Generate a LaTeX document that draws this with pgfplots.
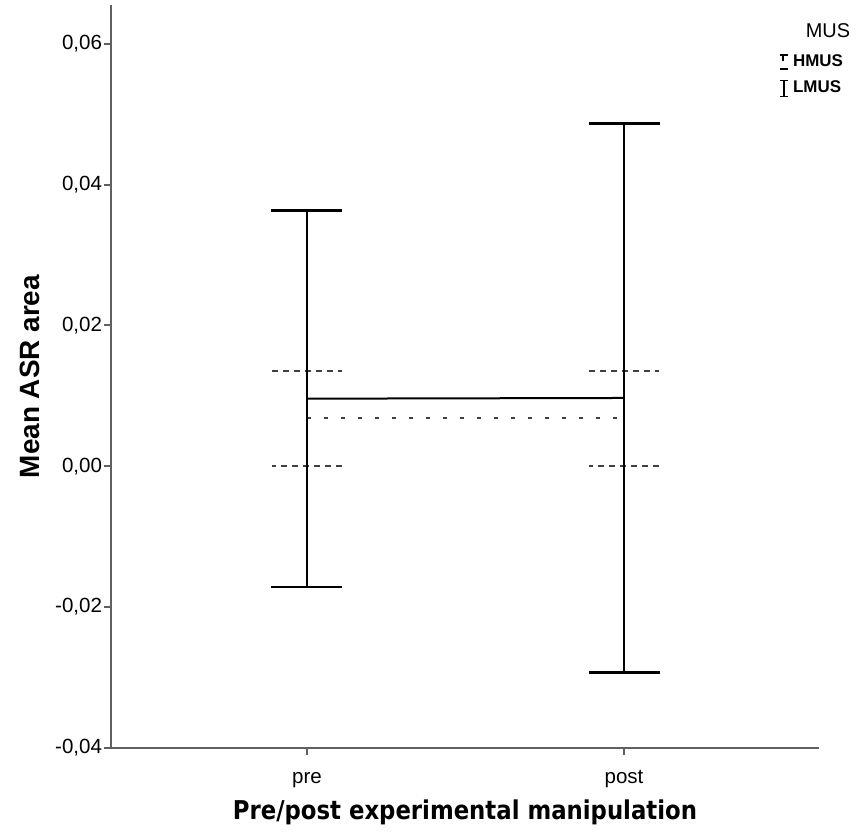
\documentclass[border=0pt]{standalone}
\usepackage{fontspec}
\setmainfont{Liberation Sans}
\newfontfamily\dejavu{DejaVu Sans}[FakeStretch=0.88]
\usepackage{pgfplots}
\pgfplotsset{compat=1.18}

\definecolor{axisgray}{HTML}{606060}
\definecolor{hmus}{HTML}{404040}

\begin{document}
\begin{tikzpicture}
\begin{axis}[
  scale only axis,
  width=354bp,
  height=371.5bp,
  clip=false,
  xmin=0.382, xmax=2.615,
  ymin=-0.04, ymax=0.0655,
  axis x line=bottom,
  axis y line=left,
  axis line style={axisgray, line width=1bp, -},
  xtick={1,2},
  xticklabels={pre,post},
  ytick={-0.04,-0.02,0,0.02,0.04,0.06},
  tick align=outside,
  major tick length=3.5bp,
  tick style={axisgray, line width=1bp},
  ticklabel style={font=\fontsize{10.3}{12}\selectfont},
  yticklabel style={xshift=2.5bp, /pgf/number format/.cd, fixed, fixed zerofill, precision=2, use comma, assume math mode=true},
  scaled y ticks=false,
  xticklabel style={anchor=base, yshift=-14.5bp},
  xlabel={Pre/post experimental manipulation},
  ylabel={Mean ASR area},
  xlabel style={at={(axis description cs:0.5,-0.0969)}, anchor=base,
    font=\dejavu\bfseries\fontsize{13}{15}\selectfont},
  ylabel style={at={(axis description cs:-0.1144,0.5)}, anchor=center,
    font=\bfseries\fontsize{14}{16}\selectfont},
  legend style={at={(rel axis cs:0.935,0.945)}, anchor=north west, draw=none, fill=none,
    font=\bfseries\fontsize{8.5}{10}\selectfont, row sep=2bp,
    /tikz/every even column/.append style={column sep=3bp}},
  legend cell align=left,
]
% HMUS: mean with dotted line, dashed error bars
\addplot[hmus, line width=1bp, dash pattern=on 2bp off 6.5bp,
  legend image code/.code={
    \draw[black, line width=0.9bp, solid] (0bp,3.5bp) -- (4bp,3.5bp) (1.2bp,3.5bp) -- (1.2bp,0.5bp);
    \draw[black, line width=0.9bp, solid] (0bp,-3.5bp) -- (4bp,-3.5bp);
  },
  error bars/.cd, y dir=both, y explicit,
  error bar style={hmus, line width=1bp, dash pattern=on 3bp off 2.5bp},
  error mark options={rotate=90, hmus, mark size=17.5bp, line width=1bp, dash pattern=on 3bp off 2.5bp}]
coordinates {(1,0.0068) +- (0,0.00675) (2,0.0068) +- (0,0.00675)};
\addlegendentry{HMUS}
% LMUS: mean with solid line, solid error bars
\addplot[black, line width=1bp, solid,
  legend image code/.code={
    \draw[black, line width=0.9bp] (2bp,-4bp) -- (2bp,4bp) (0bp,4bp) -- (4bp,4bp) (0bp,-4bp) -- (4bp,-4bp);
  },
  error bars/.cd, y dir=both, y explicit,
  error bar style={black, line width=1.2bp, solid},
  error mark options={rotate=90, black, mark size=17.75bp, line width=1.2bp, solid}]
coordinates {(1,0.0096) +- (0,0.0267) (2,0.0097) +- (0,0.0390)};
\addlegendentry{LMUS}
\node[anchor=center, font=\fontsize{10}{12}\selectfont] at (rel axis cs:1.0127,0.966) {MUS};
\path (rel axis cs:0,0) -- ++(-55.5bp,-39bp);
\path (rel axis cs:1,1) -- ++(20bp,2.5bp);
\end{axis}
\end{tikzpicture}
\end{document}
